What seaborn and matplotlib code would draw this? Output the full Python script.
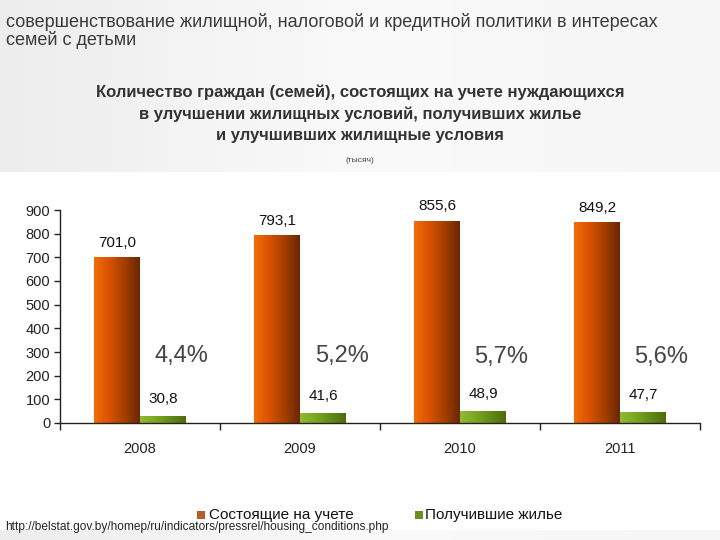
import numpy as np
import pandas as pd
import matplotlib
matplotlib.use("Agg")
import matplotlib.pyplot as plt
from matplotlib.colors import LinearSegmentedColormap
from matplotlib.patches import Rectangle
import seaborn as sns

years = ["2008", "2009", "2010", "2011"]
registered = [701.0, 793.1, 855.6, 849.2]
received = [30.8, 41.6, 48.9, 47.7]
percents = ["4,4%", "5,2%", "5,7%", "5,6%"]
series_names = ["Состоящие на учете", "Получившие жилье"]
yticks = [0, 100, 200, 300, 400, 500, 600, 700, 800, 900]

sns.set_theme(style="white")
plt.rcParams['font.family'] = ['Liberation Sans', 'DejaVu Sans']

df = pd.DataFrame({
    "year": years * 2,
    "value": registered + received,
    "series": [series_names[0]] * 4 + [series_names[1]] * 4,
})

fig = plt.figure(figsize=(7.2, 5.4), dpi=100)
fig.patch.set_facecolor("white")

# light grey header band
bg = fig.add_axes([0, 0, 1, 1], zorder=-10)
grad = np.linspace(0, 1, 256)
img = np.tile(grad, (20, 1))
hdr_cmap = LinearSegmentedColormap.from_list("hdr", ["#ededed", "#fafafa", "#f6f6f6"])
bg.imshow(img, extent=[0, 1, 1 - 172 / 540, 1], aspect="auto", cmap=hdr_cmap)
bg.imshow(img, extent=[0, 1, 0, 10 / 540], aspect="auto", cmap=hdr_cmap)
bg.set_xlim(0, 1)
bg.set_ylim(0, 1)
bg.axis("off")

ax = fig.add_axes([60 / 720, 117 / 540, 640 / 720, 213 / 540])
ax.set_facecolor("none")
sns.barplot(data=df, x="year", y="value", hue="series", order=years,
            hue_order=series_names, palette=["#c85000", "#6e9a1c"],
            width=0.575, gap=0, ax=ax, legend=False, saturation=1)

ax.set_ylim(0, 900)
ax.set_xlim(-0.5, 3.5)
ax.set_yticks(yticks)
ax.set_yticklabels([str(v) for v in yticks], fontsize=10.5, color="#222222")
ax.set_xlabel("")
ax.set_ylabel("")
ax.set_xticks([-0.5, 0.5, 1.5, 2.5, 3.5], minor=False)
ax.set_xticklabels([])
ax.set_xticks([0, 1, 2, 3], minor=True)
ax.set_xticklabels(years, minor=True, fontsize=10.5, color="#222222")
ax.tick_params(axis="x", which="major", direction="out", length=5, width=1, color="#222222", bottom=True)
ax.tick_params(axis="x", which="minor", length=0, pad=14)
ax.tick_params(axis="y", direction="out", length=4, width=1, color="#222222", left=True, pad=3)
for s in ["top", "right"]:
    ax.spines[s].set_visible(False)
for s in ["left", "bottom"]:
    ax.spines[s].set_color("#222222")
    ax.spines[s].set_linewidth(1)

# gradient fill of bars
orange_cmap = LinearSegmentedColormap.from_list("or", ["#f46c0c", "#d85200", "#a23e00", "#6a2600"])
green_cmap = LinearSegmentedColormap.from_list("gr", ["#92bc30", "#6f9a1c", "#4c6c0c"])
bars = [p for p in ax.patches if isinstance(p, Rectangle) and p.get_height() > 0]
gimg = np.tile(np.linspace(0, 1, 256), (4, 1))
for p in bars:
    x0, y0, w, h = p.get_x(), p.get_y(), p.get_width(), p.get_height()
    cmap = orange_cmap if h > 200 else green_cmap
    im = ax.imshow(gimg, extent=[x0, x0 + w, y0, y0 + h], aspect="auto",
                   cmap=cmap, zorder=p.get_zorder() + 0.1)
    im.set_clip_path(p)
ax.set_xlim(-0.5, 3.5)
ax.set_ylim(0, 900)

# value labels
off = 0.575 / 4
for i, (r, g) in enumerate(zip(registered, received)):
    ax.text(i - off, r + 30, f"{r:.1f}".replace(".", ","), ha="center", va="bottom",
            fontsize=11, color="#111111")
    ax.text(i + off, g + 42, f"{g:.1f}".replace(".", ","), ha="center", va="bottom",
            fontsize=11, color="#111111")
    ax.text(i + 0.26, 285 if i < 2 else 280, percents[i], ha="center", va="center",
            fontsize=17, color="#444444")

# titles
fig.text(6 / 720, 1 - 22 / 540, "совершенствование жилищной, налоговой и кредитной политики в интересах",
         fontsize=13, color="#3a3a3a", va="center", ha="left")
fig.text(6 / 720, 1 - 40 / 540, "семей с детьми", fontsize=13, color="#3a3a3a", va="center", ha="left")
for yy, line in zip([92, 114, 136], [
        "Количество граждан (семей), состоящих на учете нуждающихся",
        "в улучшении жилищных условий, получивших жилье",
        "и улучшивших жилищные условия"]):
    fig.text(360 / 720, 1 - yy / 540, line, fontsize=12, fontweight="bold",
             color="#333333", ha="center", va="center")
fig.text(360 / 720, 1 - 160 / 540, "(тысяч)", fontsize=6, color="#444444", ha="center", va="center")

# legend
leg_y = 1 - 515 / 540
fig.patches.append(Rectangle((197 / 720, leg_y - 4 / 540), 8 / 720, 8 / 540,
                             transform=fig.transFigure, facecolor="#b5602a", edgecolor="none"))
fig.text(209 / 720, leg_y, series_names[0], fontsize=11, color="#111111", va="center", ha="left")
fig.patches.append(Rectangle((415 / 720, leg_y - 4 / 540), 8 / 720, 8 / 540,
                             transform=fig.transFigure, facecolor="#6e8e22", edgecolor="none"))
fig.text(425 / 720, leg_y, series_names[1], fontsize=11, color="#111111", va="center", ha="left")

fig.text(5 / 720, 1 - 527 / 540,
         "http://belstat.gov.by/homep/ru/indicators/pressrel/housing_conditions.php",
         fontsize=8.6, color="#222222", va="center", ha="left")

fig.savefig("out.png", dpi=100, facecolor=fig.get_facecolor())
